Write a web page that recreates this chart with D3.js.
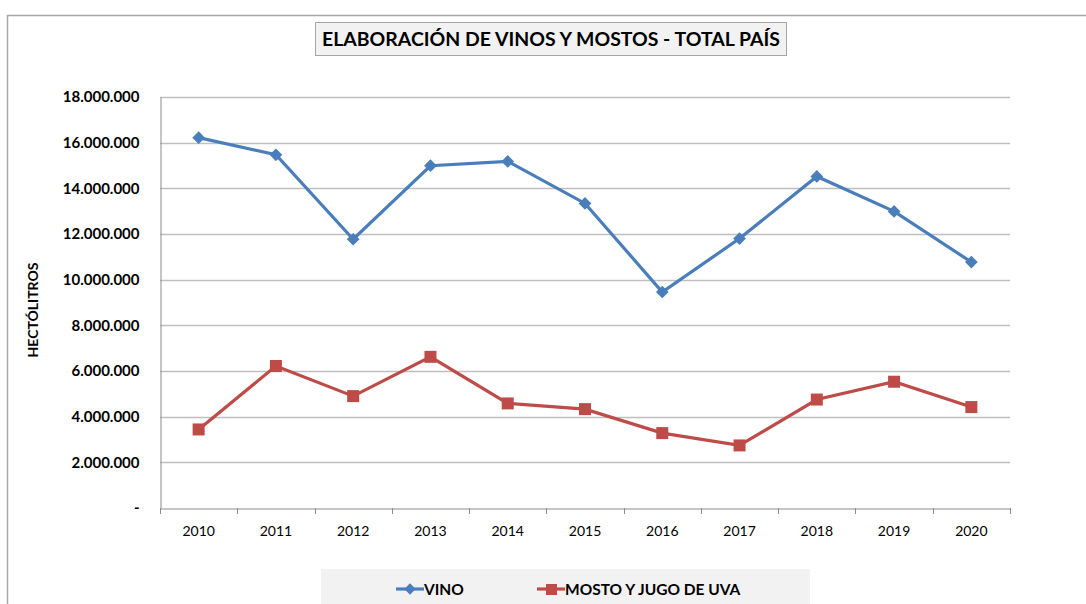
<!DOCTYPE html>
<html>
<head>
<meta charset="utf-8">
<script src="https://cdn.jsdelivr.net/npm/d3@7"></script>
<style>
  body { margin: 0; background: #fff; }
  svg { display: block; font-family: Lato, "Open Sans", sans-serif; }
</style>
</head>
<body>
<svg id="svg" width="1086" height="604"></svg>
<script>
var years = [2010, 2011, 2012, 2013, 2014, 2015, 2016, 2017, 2018, 2019, 2020];
var vino = [16220000, 15470000, 11770000, 14990000, 15180000, 13340000, 9460000, 11800000, 14520000, 12990000, 10770000];
var mosto = [3440000, 6220000, 4900000, 6620000, 4580000, 4330000, 3280000, 2740000, 4750000, 5530000, 4420000];
var yTicks = [0, 2000000, 4000000, 6000000, 8000000, 10000000, 12000000, 14000000, 16000000, 18000000];

var plotLeft = 160, plotRight = 1010, plotTop = 97, plotBottom = 508;

var svg = d3.select('svg');

// outer chart border
svg.append('rect')
    .attr('x', 7.5).attr('y', 15.5)
    .attr('width', 1100).attr('height', 620)
    .attr('fill', 'white')
    .attr('stroke', '#a6a6a6')
    .attr('stroke-width', 1.5);

var x = d3.scaleBand()
    .domain(years)
    .range([plotLeft, plotRight]);

var y = d3.scaleLinear()
    .domain([0, 18000000])
    .range([plotBottom, plotTop]);

var fmt = function(v){
    if (v === 0) return '-';
    return d3.format(',')(v).replace(/,/g, '.');
};

// gridlines
svg.append('g')
    .selectAll('line')
    .data(yTicks.slice(1))
    .enter()
    .append('line')
    .attr('x1', plotLeft).attr('x2', plotRight)
    .attr('y1', function(d){ return Math.round(y(d)) + 0.5; })
    .attr('y2', function(d){ return Math.round(y(d)) + 0.5; })
    .attr('stroke', '#bfbfbf')
    .attr('stroke-width', 1.3);

// y axis
var yAxis = svg.append('g')
    .attr('transform', 'translate(' + (plotLeft + 0.5) + ',0)')
    .call(d3.axisLeft(y).tickValues(yTicks).tickFormat(fmt).tickSize(0).tickPadding(21));
yAxis.select('.domain').attr('stroke', '#8c8c8c');
yAxis.selectAll('text')
    .attr('font-size', 15)
    .attr('font-weight', 'bold')
    .attr('fill', '#000')
    .attr('font-family', 'Lato, sans-serif');

// x axis
var xAxis = svg.append('g')
    .attr('transform', 'translate(0,' + (plotBottom + 0.5) + ')')
    .call(d3.axisBottom(x).tickSize(0).tickPadding(18));
xAxis.select('.domain').attr('stroke', '#8c8c8c');
xAxis.selectAll('text')
    .attr('font-size', 14)
    .attr('fill', '#000')
    .attr('font-family', 'Lato, sans-serif');

// x tick marks at band edges
svg.append('g')
    .selectAll('line')
    .data(years.concat(['end']))
    .enter()
    .append('line')
    .attr('x1', function(d, i){ return Math.round(plotLeft + i * x.bandwidth()) + 0.5; })
    .attr('x2', function(d, i){ return Math.round(plotLeft + i * x.bandwidth()) + 0.5; })
    .attr('y1', plotBottom).attr('y2', plotBottom + 6)
    .attr('stroke', '#8c8c8c');

var cx = function(d, i){ return x(years[i]) + x.bandwidth() / 2; };

var line = d3.line()
    .x(cx)
    .y(function(d){ return y(d); });

// VINO
svg.append('path')
    .datum(vino)
    .attr('d', line)
    .attr('fill', 'none')
    .attr('stroke', '#4a7ebb')
    .attr('stroke-width', 3.2);

svg.selectAll('.vinoPt')
    .data(vino)
    .enter()
    .append('rect')
    .attr('class', 'vinoPt')
    .attr('x', -4.5).attr('y', -4.5)
    .attr('width', 9).attr('height', 9)
    .attr('transform', function(d, i){ return 'translate(' + cx(d, i) + ',' + y(d) + ') rotate(45)'; })
    .attr('fill', '#4a7ebb');

// MOSTO
svg.append('path')
    .datum(mosto)
    .attr('d', line)
    .attr('fill', 'none')
    .attr('stroke', '#be4b48')
    .attr('stroke-width', 3.2);

svg.selectAll('.mostoPt')
    .data(mosto)
    .enter()
    .append('rect')
    .attr('class', 'mostoPt')
    .attr('x', function(d, i){ return cx(d, i) - 6; })
    .attr('y', function(d){ return y(d) - 6; })
    .attr('width', 12).attr('height', 12)
    .attr('fill', '#be4b48');

// title
svg.append('rect')
    .attr('x', 315.5).attr('y', 22.5)
    .attr('width', 471).attr('height', 33)
    .attr('fill', '#f2f2f2')
    .attr('stroke', '#a6a6a6');

svg.append('text')
    .text('ELABORACIÓN DE VINOS Y MOSTOS - TOTAL PAÍS')
    .attr('x', 551).attr('y', 46)
    .attr('text-anchor', 'middle')
    .attr('font-size', 19)
    .attr('font-weight', 'bold')
    .attr('fill', '#000')
    .attr('textLength', 458)
    .attr('lengthAdjust', 'spacingAndGlyphs');

// y label
svg.append('text')
    .text('HECTÓLITROS')
    .attr('transform', 'translate(38,310) rotate(-90)')
    .attr('text-anchor', 'middle')
    .attr('font-size', 14)
    .attr('font-weight', 'bold')
    .attr('fill', '#000');

// legend
svg.append('rect')
    .attr('x', 321).attr('y', 569)
    .attr('width', 489).attr('height', 40)
    .attr('fill', '#f2f2f2');

var legend = [
    {name: 'VINO', color: '#4a7ebb', x: 396},
    {name: 'MOSTO Y JUGO DE UVA', color: '#be4b48', x: 537}
];

legend.forEach(function(l, i){
    svg.append('line')
        .attr('x1', l.x).attr('x2', l.x + 28)
        .attr('y1', 589).attr('y2', 589)
        .attr('stroke', l.color)
        .attr('stroke-width', 3.2);
    if (i === 0) {
        svg.append('rect')
            .attr('x', -4).attr('y', -4)
            .attr('width', 8).attr('height', 8)
            .attr('transform', 'translate(' + (l.x + 14) + ',589) rotate(45)')
            .attr('fill', l.color);
    } else {
        svg.append('rect')
            .attr('x', l.x + 9).attr('y', 584)
            .attr('width', 11).attr('height', 11)
            .attr('fill', l.color);
    }
    svg.append('text')
        .text(l.name)
        .attr('x', l.x + 28).attr('y', 595)
        .attr('font-size', 15.5)
        .attr('font-weight', 'bold')
        .attr('fill', '#000');
});
</script>
</body>
</html>
